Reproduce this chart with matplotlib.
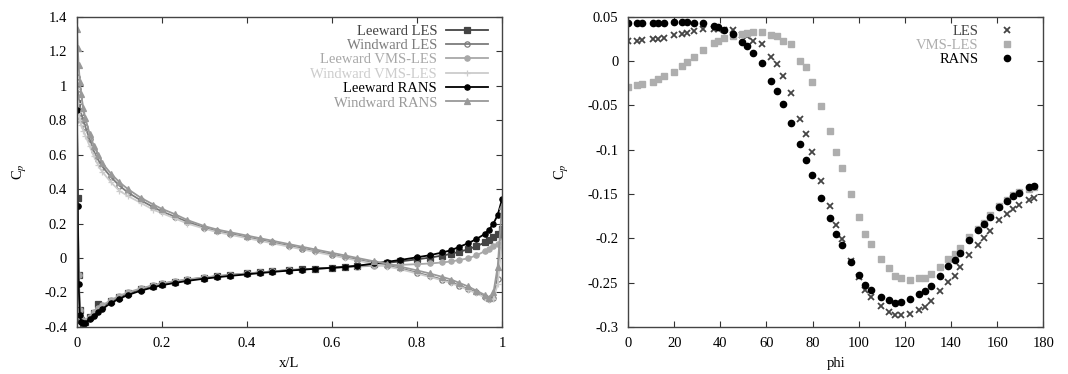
import matplotlib
matplotlib.use("Agg")
import matplotlib.pyplot as plt
from matplotlib.ticker import FuncFormatter

# ---- left panel: Cp along chord ----
xl = [0, 0.002, 0.004, 0.007, 0.01, 0.015, 0.02, 0.03, 0.04, 0.05,
      0.06, 0.08, 0.1, 0.12, 0.15, 0.18, 0.2, 0.23, 0.26, 0.3,
      0.33, 0.36, 0.4, 0.43, 0.46, 0.5, 0.53, 0.56, 0.6, 0.63,
      0.66, 0.7, 0.73, 0.76, 0.8, 0.83, 0.86, 0.88, 0.9, 0.92,
      0.94, 0.96, 0.97, 0.98, 0.99, 1.0]

leeward_les = [0.9, 0.35, -0.1, -0.3, -0.36, -0.375, -0.37, -0.345, -0.32, -0.27,
               -0.28, -0.25, -0.225, -0.205, -0.18, -0.16, -0.15, -0.137, -0.126, -0.114,
               -0.106, -0.099, -0.09, -0.084, -0.078, -0.07, -0.066, -0.062, -0.057, -0.052,
               -0.046, -0.036, -0.028, -0.02, -0.008, 0.002, 0.014, 0.024, 0.036, 0.05,
               0.068, 0.09, 0.105, 0.12, 0.14, 0.17]
windward_les = [1.05, 0.98, 0.93, 0.88, 0.84, 0.8, 0.76, 0.69, 0.62, 0.57,
                0.53, 0.47, 0.42, 0.38, 0.335, 0.295, 0.27, 0.24, 0.21, 0.175,
                0.155, 0.14, 0.12, 0.105, 0.09, 0.07, 0.055, 0.04, 0.02, 0.005,
                -0.01, -0.03, -0.045, -0.06, -0.085, -0.105, -0.125, -0.14, -0.16, -0.18,
                -0.2, -0.225, -0.24, -0.23, -0.12, 0.17]
leeward_vms = [0.8, 0.3, -0.1, -0.3, -0.35, -0.37, -0.365, -0.34, -0.315, -0.29,
               -0.275, -0.245, -0.22, -0.2, -0.177, -0.158, -0.148, -0.135, -0.124, -0.113,
               -0.105, -0.098, -0.09, -0.084, -0.078, -0.071, -0.067, -0.063, -0.058, -0.054,
               -0.05, -0.045, -0.042, -0.04, -0.036, -0.032, -0.026, -0.02, -0.012, -0.002,
               0.015, 0.04, 0.055, 0.07, 0.08, 0.1]
windward_vms = [0.98, 0.9, 0.85, 0.8, 0.77, 0.74, 0.71, 0.65, 0.59, 0.54,
                0.5, 0.44, 0.39, 0.36, 0.32, 0.28, 0.26, 0.23, 0.2, 0.17,
                0.15, 0.135, 0.115, 0.1, 0.085, 0.065, 0.05, 0.035, 0.015, 0.0,
                -0.015, -0.035, -0.05, -0.065, -0.09, -0.11, -0.13, -0.145, -0.165, -0.185,
                -0.205, -0.23, -0.245, -0.24, -0.15, 0.1]
leeward_rans = [0.86, 0.3, -0.15, -0.33, -0.37, -0.38, -0.375, -0.355, -0.335, -0.315,
                -0.295, -0.262, -0.236, -0.215, -0.19, -0.17, -0.158, -0.145, -0.133, -0.12,
                -0.112, -0.104, -0.095, -0.088, -0.081, -0.073, -0.068, -0.063, -0.057, -0.052,
                -0.045, -0.032, -0.022, -0.012, 0.004, 0.016, 0.032, 0.045, 0.065, 0.085,
                0.11, 0.14, 0.165, 0.2, 0.25, 0.34]
windward_rans = [1.33, 1.22, 1.12, 1.02, 0.95, 0.87, 0.81, 0.72, 0.65, 0.6,
                 0.55, 0.49, 0.44, 0.4, 0.35, 0.31, 0.285, 0.255, 0.22, 0.185,
                 0.165, 0.15, 0.13, 0.115, 0.1, 0.08, 0.065, 0.05, 0.03, 0.015,
                 0.0, -0.02, -0.033, -0.05, -0.072, -0.09, -0.11, -0.125, -0.145, -0.165,
                 -0.19, -0.215, -0.235, -0.2, -0.05, 0.3]

# ---- right panel: Cp around circumference ----
phi = [0, 3.9, 6.1, 10.8, 12.9, 15.8, 19.8, 23.3, 25.7, 28.7,
       32.6, 37.2, 39.2, 41.5, 45.3, 49.2, 51.7, 54.3, 58.0, 61.8,
       64.4, 67.0, 70.6, 74.7, 77.3, 79.7, 83.5, 87.4, 90.0, 92.6,
       96.5, 100.1, 102.7, 105.5, 109.5, 113.0, 115.6, 118.2, 122.3, 126.2,
       128.6, 131.2, 135.1, 138.8, 141.7, 144.0, 147.9, 151.5, 154.4, 157.0,
       160.9, 164.2, 167.0, 169.2, 173.6, 176.1]
cp_les = [0.0222, 0.023, 0.0237, 0.0245, 0.0248, 0.026, 0.0293, 0.0305, 0.0312, 0.0335,
          0.0357, 0.0365, 0.0365, 0.035, 0.035, 0.029, 0.0278, 0.023, 0.0192, 0.0042,
          -0.0033, -0.0172, -0.036, -0.065, -0.0826, -0.103, -0.1348, -0.163, -0.1855, -0.201,
          -0.226, -0.2437, -0.2587, -0.266, -0.2767, -0.283, -0.2868, -0.2868, -0.285, -0.2805,
          -0.2775, -0.271, -0.2598, -0.2493, -0.2421, -0.2324, -0.219, -0.2072, -0.1997, -0.1922,
          -0.1798, -0.1723, -0.1667, -0.1625, -0.1573, -0.1547]
cp_vms = [-0.0289, -0.0266, -0.0259, -0.0232, -0.0206, -0.0172, -0.012, -0.0052, -0.0007, 0.0049,
          0.0124, 0.02, 0.0222, 0.026, 0.0278, 0.0305, 0.0316, 0.0324, 0.0324, 0.0297,
          0.0278, 0.023, 0.0192, 0.0004, -0.0071, -0.0232, -0.0503, -0.0792, -0.1028, -0.1209,
          -0.1498, -0.176, -0.1948, -0.2061, -0.223, -0.2335, -0.2422, -0.2448, -0.2467, -0.2444,
          -0.2444, -0.2399, -0.2324, -0.223, -0.2182, -0.211, -0.1986, -0.1892, -0.1825, -0.1742,
          -0.1637, -0.1573, -0.151, -0.1479, -0.1441, -0.1423]
cp_rans = [0.0425, 0.0425, 0.0425, 0.0432, 0.0432, 0.0432, 0.044, 0.044, 0.044, 0.043,
           0.043, 0.040, 0.039, 0.035, 0.0305, 0.022, 0.0167, 0.0087, -0.0026, -0.022,
           -0.0337, -0.048, -0.0694, -0.094, -0.112, -0.128, -0.154, -0.1776, -0.1956, -0.208,
           -0.2268, -0.2418, -0.253, -0.258, -0.266, -0.270, -0.273, -0.272, -0.269, -0.263,
           -0.260, -0.254, -0.2425, -0.231, -0.2245, -0.217, -0.2023, -0.191, -0.1836, -0.176,
           -0.1648, -0.158, -0.1517, -0.1486, -0.142, -0.1415]

plt.rcParams['font.family'] = ['Liberation Serif', 'DejaVu Serif']
plt.rcParams['font.size'] = 10.5
plt.rcParams['mathtext.fontset'] = 'stix'

fmt = FuncFormatter(lambda v, p: f"{round(v, 3):g}")


def style_axes(ax):
    ax.tick_params(direction='in', top=True, right=True, length=4, width=0.8,
                   color='#333333', pad=7)
    for s in ax.spines.values():
        s.set_color('#444444')
        s.set_linewidth(1.0)
    ax.xaxis.set_major_formatter(fmt)
    ax.yaxis.set_major_formatter(fmt)


fig = plt.figure(figsize=(10.68, 3.74), dpi=100)
ax1 = fig.add_axes([0.072, 0.126, 0.398, 0.829])
ax2 = fig.add_axes([0.588, 0.126, 0.389, 0.829])

left_series = [
    (leeward_les, 'Leeward LES', '#444444', 's', True),
    (windward_les, 'Windward LES', '#7c7c7c', 'o', False),
    (leeward_vms, 'Leeward VMS-LES', '#a8a8a8', 'o', True),
    (windward_vms, 'Windward VMS-LES', '#cccccc', '+', True),
    (leeward_rans, 'Leeward RANS', '#000000', 'o', True),
    (windward_rans, 'Windward RANS', '#999999', '^', True),
]
for ys, name, col, mk, filled in left_series:
    ax1.plot(xl, ys, color=col, lw=1.3, marker=mk, ms=3.8,
             mfc=col if filled else 'none', mec=col, mew=0.9, label=name)

ax1.set_xlim(0, 1)
ax1.set_ylim(-0.4, 1.4)
ax1.set_xticks([0, 0.2, 0.4, 0.6, 0.8, 1.0])
ax1.set_yticks([-0.4, -0.2, 0, 0.2, 0.4, 0.6, 0.8, 1.0, 1.2, 1.4])
ax1.set_xlabel('x/L', labelpad=5)
ax1.set_ylabel('C$_p$', labelpad=11)
style_axes(ax1)
ax1.legend(loc='upper right', bbox_to_anchor=(0.995, 1.013), frameon=False,
           markerfirst=False, labelcolor='linecolor',
           handlelength=2.9, handletextpad=0.6, labelspacing=0.08,
           borderaxespad=0.4, fontsize=10.5)

ax2.plot(phi, cp_les, ls='none', marker='x', ms=4.5, mew=1.3, color='#444444', label='LES')
ax2.plot(phi, cp_vms, ls='none', marker='s', ms=3.8, color='#aeaeae', label='VMS-LES')
ax2.plot(phi, cp_rans, ls='none', marker='o', ms=4.5, color='#000000', label='RANS')
ax2.set_xlim(0, 180)
ax2.set_ylim(-0.3, 0.05)
ax2.set_xticks(range(0, 181, 20))
ax2.set_yticks([-0.3, -0.25, -0.2, -0.15, -0.1, -0.05, 0, 0.05])
ax2.set_xlabel('phi', labelpad=5)
ax2.set_ylabel('C$_p$', labelpad=12)
style_axes(ax2)
ax2.legend(loc='upper right', bbox_to_anchor=(0.978, 1.013), frameon=False,
           markerfirst=False, labelcolor='linecolor',
           handlelength=2.2, handletextpad=0.8, labelspacing=0.08,
           borderaxespad=0.4, fontsize=10.5)

fig.savefig('out.png', dpi=100)
